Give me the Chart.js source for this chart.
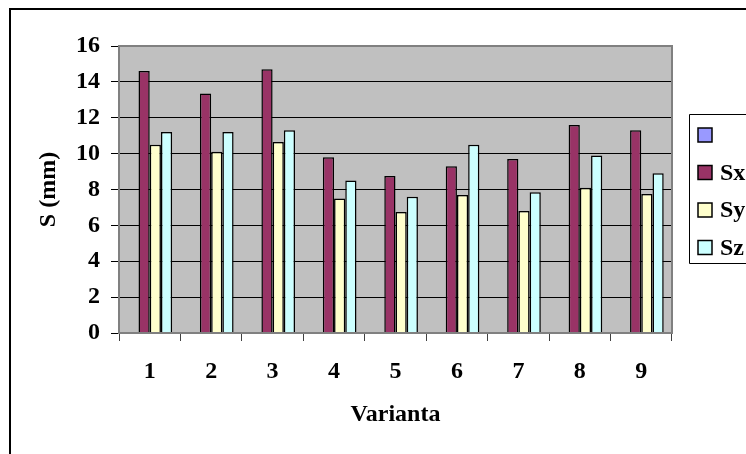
<!DOCTYPE html>
<html>
<head>
<meta charset="utf-8">
<script src="https://cdn.jsdelivr.net/npm/chart.js@4.4.1/dist/chart.umd.min.js"></script>
<style>
  html, body { margin: 0; padding: 0; background: #fff; overflow: hidden; }
  canvas { display: block; }
</style>
</head>
<body>
<canvas id="grafico" width="746" height="454"></canvas>
<script>
const variante = ["1", "2", "3", "4", "5", "6", "7", "8", "9"];

// prima serie din legenda nu are nume si nici valori
const serieGoala = [null, null, null, null, null, null, null, null, null];
const sx = [14.6, 13.35, 14.7, 9.8, 8.75, 9.3, 9.7, 11.6, 11.3];
const sy = [10.5, 10.1, 10.65, 7.5, 6.75, 7.7, 6.8, 8.1, 7.75];
const sz = [11.2, 11.2, 11.3, 8.5, 7.6, 10.5, 7.85, 9.9, 8.9];

const etichete = ["", "Sx", "Sy", "Sz"];
const culori = ["#9999ff", "#993366", "#ffffcc", "#ccffff"];

const yMin = 0;
const yMax = 16;
const yPas = 2;

const titluX = "Varianta";
const titluY = "S (mm)";

const fontBold = { family: "'Liberation Serif', 'Times New Roman', serif", weight: "bold", size: 24 };

const fundal = {
  id: "fundal",
  beforeDraw(chart) {
    const { ctx, chartArea: a } = chart;
    ctx.save();
    ctx.fillStyle = "#fff";
    ctx.fillRect(0, 0, chart.width, chart.height);
    // chenarul exterior, taiat la dreapta si jos
    ctx.strokeStyle = "#000";
    ctx.lineWidth = 2;
    ctx.beginPath();
    ctx.moveTo(10, chart.height + 5);
    ctx.lineTo(10, 9);
    ctx.lineTo(chart.width + 5, 9);
    ctx.stroke();
    ctx.fillStyle = "#c0c0c0";
    ctx.fillRect(a.left, a.top, a.right - a.left, a.bottom - a.top);
    ctx.restore();
  },
  afterDatasetsDraw(chart) {
    const { ctx, chartArea: a } = chart;
    ctx.save();
    ctx.strokeStyle = "#808080";
    ctx.lineWidth = 2;
    ctx.strokeRect(a.left, a.top, a.right - a.left, a.bottom - a.top);
    ctx.restore();
  }
};

const legenda = {
  id: "legenda",
  afterDraw(chart) {
    const { ctx } = chart;
    ctx.save();
    // cutia legendei iese din imagine in dreapta
    ctx.strokeStyle = "#000";
    ctx.lineWidth = 1;
    ctx.beginPath();
    ctx.moveTo(chart.width + 20, 114.5);
    ctx.lineTo(689.5, 114.5);
    ctx.lineTo(689.5, 263.5);
    ctx.lineTo(chart.width + 20, 263.5);
    ctx.stroke();
    ctx.font = "bold 24px 'Liberation Serif', 'Times New Roman', serif";
    ctx.textBaseline = "middle";
    chart.data.datasets.forEach((ds, i) => {
      const y = 135 + i * 37.5;
      ctx.fillStyle = ds.backgroundColor;
      ctx.fillRect(698, y - 7, 14, 14);
      ctx.strokeStyle = "#000";
      ctx.lineWidth = 1.5;
      ctx.strokeRect(698, y - 7, 14, 14);
      ctx.fillStyle = "#000";
      ctx.fillText(ds.label, 720, y + 1);
    });
    ctx.restore();
  }
};

const seturi = [serieGoala, sx, sy, sz].map((valori, i) => ({
  label: etichete[i],
  data: valori,
  backgroundColor: culori[i],
  borderColor: "#000",
  borderWidth: 1.5,
  categoryPercentage: 0.73,
  barPercentage: 1
}));

new Chart(document.getElementById("grafico"), {
  type: "bar",
  data: { labels: variante, datasets: seturi },
  options: {
    responsive: false,
    animation: false,
    devicePixelRatio: 1,
    layout: { padding: { top: 46, right: 74, bottom: 0, left: 0 } },
    plugins: {
      legend: { display: false },
      tooltip: { enabled: false }
    },
    scales: {
      x: {
        afterFit: (s) => { s.height = 121; },
        grid: {
          offset: true,
          drawOnChartArea: false,
          tickLength: 8,
          tickColor: "#404040"
        },
        border: { color: "#808080", width: 2 },
        ticks: { color: "#000", font: fontBold, padding: 16 },
        title: {
          display: true,
          text: titluX,
          color: "#000",
          font: fontBold,
          padding: { top: 0, bottom: 25 }
        }
      },
      y: {
        min: yMin,
        max: yMax,
        afterFit: (s) => { s.width = 119; },
        grid: {
          color: (c) => (c.tick && (c.tick.value === yMax || c.tick.value === yMin) ? "#808080" : "#000"),
          lineWidth: 1,
          tickLength: 8,
          tickColor: "#000"
        },
        border: { color: "#808080", width: 2 },
        ticks: { stepSize: yPas, color: "#000", font: fontBold, padding: 11 },
        title: {
          display: true,
          text: titluY,
          color: "#000",
          font: fontBold,
          padding: { top: 34, bottom: 0 }
        }
      }
    }
  },
  plugins: [fundal, legenda]
});
</script>
</body>
</html>
